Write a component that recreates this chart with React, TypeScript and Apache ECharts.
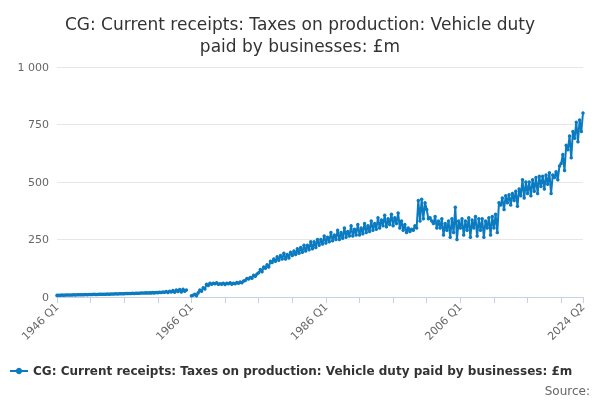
import { useEffect, useRef } from "react";
import * as echarts from "echarts";

const startYear = 1946;
const tickLabels = ["1946 Q1", "1966 Q1", "1986 Q1", "2006 Q1", "2024 Q2"];

// quarterly values, £m (1946 Q1 .. 2024 Q2)
const values: (number | null)[] = [
  7, 8, 8, 9, 8, 9, 9, 9, 9, 9, 10, 9, 10, 10, 10, 10, 10, 11, 10, 11,
  11, 11, 12, 11, 11, 12, 12, 12, 12, 12, 13, 12, 13, 13, 13, 14, 13, 14, 14, 14,
  14, 15, 15, 15, 15, 16, 15, 16, 16, 16, 17, 17, 17, 18, 17, 18, 18, 19, 18, 20,
  19, 21, 20, 22, 21, 24, 20, 25, 22, 28, 21, 30, 24, 32, 22, 34, 25, 30, null, null,
  5, 8, 12, 6, 18, 30, 25, 40, 35, 55, 50, 60, 55, 60, 58, 62, 55, 58, 56, 60,
  54, 60, 58, 62, 56, 60, 58, 63, 60, 65, 62, 70, 72, 80, 78, 85, 82, 95, 90, 100,
  105, 120, 110, 130, 125, 140, 130, 155, 150, 165, 155, 175, 160, 180, 165, 190,
  165, 185, 170, 195, 180, 200, 185, 210, 190, 215, 195, 225, 200, 225, 205, 240,
  210, 240, 215, 250, 225, 250, 230, 265, 235, 260, 240, 280, 245, 270, 250, 290,
  250, 280, 255, 300, 260, 285, 265, 310, 265, 295, 270, 315, 270, 300, 275, 320,
  280, 310, 285, 330, 290, 320, 295, 345, 300, 335, 310, 355, 305, 340, 315, 360,
  310, 345, 320, 365, 300, 330, 290, 315, 280, 300, 285, 295, 290, 310, 300, 420,
  330, 425, 340, 410, 380, 340, 345, 330, 320, 350, 300, 330, 300, 340, 270, 320,
  290, 330, 260, 340, 280, 390, 250, 330, 300, 340, 270, 330, 290, 345, 260, 335,
  300, 350, 265, 340, 290, 340, 260, 330, 300, 345, 270, 350, 300, 360, 280, 410,
  400, 430, 380, 440, 410, 445, 400, 450, 420, 460, 395, 470, 440, 510, 430, 500,
  450, 500, 440, 510, 460, 520, 450, 525, 480, 525, 470, 530, 490, 540, 450, 530,
  520, 545, 510, 570, 580, 620, 550, 660, 640, 700, 605, 720, 690, 760, 675, 770,
  720, 800,
];

const categories: string[] = values.map(
  (_, i) => `${startYear + Math.floor(i / 4)} Q${(i % 4) + 1}`
);

const seriesName = "CG: Current receipts: Taxes on production: Vehicle duty paid by businesses: £m";
const color = "#0b7bc1";

export default function App() {
  const ref = useRef<HTMLDivElement | null>(null);

  useEffect(() => {
    if (!ref.current) return;
    const chart = echarts.init(ref.current, undefined, { renderer: "svg" });
    const last = categories.length - 1;

    chart.setOption({
      animation: false,
      textStyle: { fontFamily: "DejaVu Sans" },
      title: {
        text: "CG: Current receipts: Taxes on production: Vehicle duty\npaid by businesses: £m",
        left: "center",
        top: 8,
        textStyle: { fontSize: 17, fontWeight: "normal", color: "#333", lineHeight: 22 },
      },
      grid: { left: 57, right: 17, top: 67, bottom: 103 },
      legend: {
        left: 4,
        bottom: 18,
        itemWidth: 18,
        itemHeight: 8,
        textStyle: { fontSize: 12, fontWeight: "bold", color: "#333" },
        data: [seriesName],
      },
      graphic: [
        {
          type: "text",
          right: 10,
          bottom: 3,
          style: { text: "Source:", fontSize: 12, fill: "#666", fontFamily: "DejaVu Sans" },
        },
      ],
      xAxis: {
        type: "category",
        data: categories,
        boundaryGap: false,
        axisLine: { lineStyle: { color: "#c7d0e6" } },
        axisTick: {
          length: 6,
          lineStyle: { color: "#c7d0e6" },
          interval: (i: number) => i % 20 === 0 || i === last,
        },
        axisLabel: {
          rotate: 45,
          color: "#666",
          fontSize: 11,
          interval: (i: number) => i % 80 === 0 || i === last,
          formatter: (v: string) => (tickLabels.includes(v) ? v : ""),
        },
      },
      yAxis: {
        type: "value",
        min: 0,
        max: 1000,
        interval: 250,
        axisLabel: {
          color: "#666",
          fontSize: 11,
          formatter: (v: number) => (v >= 1000 ? "1 000" : String(v)),
        },
        splitLine: { lineStyle: { color: "#e6e6e6" } },
      },
      series: [
        {
          name: seriesName,
          type: "line",
          data: values,
          color,
          symbol: "circle",
          symbolSize: 3.5,
          showSymbol: true,
          showAllSymbol: true,
          connectNulls: false,
          lineStyle: { width: 2, color },
          itemStyle: { color },
        },
      ],
    });

    return () => chart.dispose();
  }, []);

  return (
    <div
      ref={ref}
      style={{ position: "fixed", left: 0, top: 0, width: 600, height: 400 }}
    />
  );
}
